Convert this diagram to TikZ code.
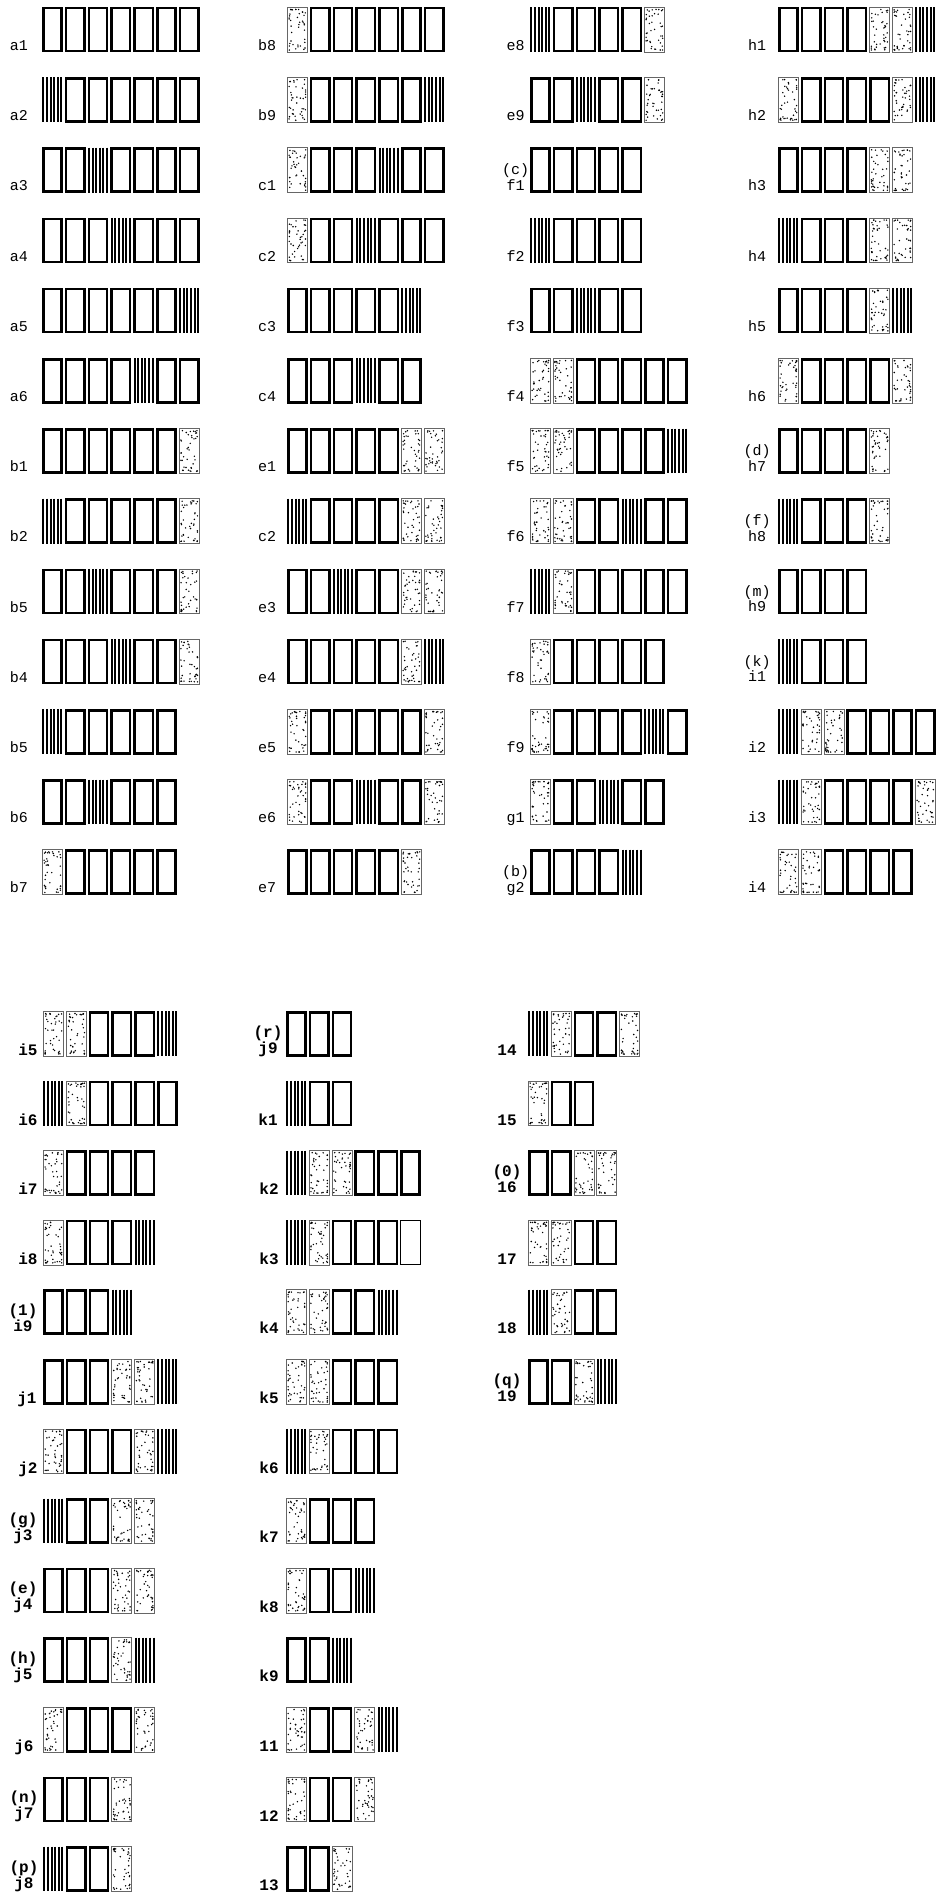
\documentclass[tikz,border=0pt]{standalone}
\usepackage{fontspec}
\setmonofont{Liberation Mono}
\tikzset{
 boxE/.style={draw=black, line width=2.5pt, line join=miter},
 boxT/.style={draw=black, line width=1.3pt},
 boxS/.style={draw=black!60, line width=0.8pt, fill=white},
 hline/.style={draw=black, line width=2pt},
 lab/.style={font=\ttfamily\fontsize{15}{17}\selectfont, anchor=base, inner sep=0pt},
 labb/.style={font=\ttfamily\bfseries\fontsize{16}{18}\selectfont, anchor=base, inner sep=0pt},
}
\newcommand\cellE[2]{\draw[boxE] ({#1+2.25},{#2+1.25}) rectangle ({#1+20.55},{#2+44.25});}
\newcommand\cellT[2]{\draw[boxT] ({#1+1.65},{#2+0.65}) rectangle ({#1+21.15},{#2+44.85});}
\newcommand\cellS[2]{\draw[boxS] ({#1+1.4},{#2+0.4}) rectangle ({#1+21.4},{#2+45.1});
 \foreach \k in {1,...,40}{\fill ({#1+11.4+8.3*sin(90*rand)},{#2+22.75+20.3*sin(90*rand)}) circle[radius=0.8pt];}}
\newcommand\cellH[2]{\foreach \k in {0,...,5}{\draw[hline] ({#1+2.4+\k*3.6},{#2+0.3}) -- ({#1+2.4+\k*3.6},{#2+45.2});}}
\newcommand\crow[3]{\foreach \t [count=\i from 0] in {#3}{\csname cell\t\endcsname{#1+\i*22.8}{#2}}}
% upper section: #1 box x, #2 label x, #3 row, #4 label, #5 spec
\newcommand\urow[5]{\crow{#1}{7+70.2*(#3-1)}{#5}
 \node[lab] (u#1r#3) at (#2,{7+70.2*(#3-1)+43.5}) {#4};}
\newcommand\urowt[6]{\crow{#1}{7+70.2*(#3-1)}{#5}
 \node[lab] (u#1r#3) at (#2,{7+70.2*(#3-1)+43}) {#4};
 \node[lab] (u#1r#3p) at (#2,{7+70.2*(#3-1)+27.5}) {#6};}
% lower section
\newcommand\lrow[5]{\crow{#1}{1011+69.6*(#3-1)}{#5}
 \node[labb] (l#1r#3) at (#2,{1011+69.6*(#3-1)+44.5}) {#4};}
\newcommand\lrowt[6]{\crow{#1}{1011+69.6*(#3-1)}{#5}
 \node[labb] (l#1r#3) at (#2,{1011+69.6*(#3-1)+42}) {#4};
 \node[labb] (l#1r#3p) at (#2,{1011+69.6*(#3-1)+26}) {#6};}
\begin{document}
\begin{tikzpicture}[x=1pt,y=-1pt]
\pgfmathsetseed{7}
\useasboundingbox[fill=white] (0,0) rectangle (937,1892);
% ---------- upper column 1
\urow{41}{19}{1}{a1}{E,E,E,E,E,E,E}
\urow{41}{19}{2}{a2}{H,E,E,E,E,E,E}
\urow{41}{19}{3}{a3}{E,E,H,E,E,E,E}
\urow{41}{19}{4}{a4}{E,E,E,H,E,E,E}
\urow{41}{19}{5}{a5}{E,E,E,E,E,E,H}
\urow{41}{19}{6}{a6}{E,E,E,E,H,E,E}
\urow{41}{19}{7}{b1}{E,E,E,E,E,E,S}
\urow{41}{19}{8}{b2}{H,E,E,E,E,E,S}
\urow{41}{19}{9}{b5}{E,E,H,E,E,E,S}
\urow{41}{19}{10}{b4}{E,E,E,H,E,E,S}
\urow{41}{19}{11}{b5}{H,E,E,E,E,E}
\urow{41}{19}{12}{b6}{E,E,H,E,E,E}
\urow{41}{19}{13}{b7}{S,E,E,E,E,E}
% ---------- upper column 2
\urow{286}{267}{1}{b8}{S,E,E,E,E,E,E}
\urow{286}{267}{2}{b9}{S,E,E,E,E,E,H}
\urow{286}{267}{3}{c1}{S,E,E,E,H,E,E}
\urow{286}{267}{4}{c2}{S,E,E,H,E,E,E}
\urow{286}{267}{5}{c3}{E,E,E,E,E,H}
\urow{286}{267}{6}{c4}{E,E,E,H,E,E}
\urow{286}{267}{7}{e1}{E,E,E,E,E,S,S}
\urow{286}{267}{8}{c2}{H,E,E,E,E,S,S}
\urow{286}{267}{9}{e3}{E,E,H,E,E,S,S}
\urow{286}{267}{10}{e4}{E,E,E,E,E,S,H}
\urow{286}{267}{11}{e5}{S,E,E,E,E,E,S}
\urow{286}{267}{12}{e6}{S,E,E,H,E,E,S}
\urow{286}{267}{13}{e7}{E,E,E,E,E,S}
% ---------- upper column 3
\urow{529}{515.5}{1}{e8}{H,E,E,E,E,S}
\urow{529}{515.5}{2}{e9}{E,E,H,E,E,S}
\urowt{529}{515.5}{3}{f1}{E,E,E,E,E}{(c)}
\urow{529}{515.5}{4}{f2}{H,E,E,E,E}
\urow{529}{515.5}{5}{f3}{E,E,H,E,E}
\urow{529}{515.5}{6}{f4}{S,S,E,E,E,E,E}
\urow{529}{515.5}{7}{f5}{S,S,E,E,E,E,H}
\urow{529}{515.5}{8}{f6}{S,S,E,E,H,E,E}
\urow{529}{515.5}{9}{f7}{H,S,E,E,E,E,E}
\urow{529}{515.5}{10}{f8}{S,E,E,E,E,E}
\urow{529}{515.5}{11}{f9}{S,E,E,E,E,H,E}
\urow{529}{515.5}{12}{g1}{S,E,E,H,E,E}
\urowt{529}{515.5}{13}{g2}{E,E,E,E,H}{(b)}
% ---------- upper column 4
\urow{777}{757}{1}{h1}{E,E,E,E,S,S,H}
\urow{777}{757}{2}{h2}{S,E,E,E,E,S,H}
\urow{777}{757}{3}{h3}{E,E,E,E,S,S}
\urow{777}{757}{4}{h4}{H,E,E,E,S,S}
\urow{777}{757}{5}{h5}{E,E,E,E,S,H}
\urow{777}{757}{6}{h6}{S,E,E,E,E,S}
\urowt{777}{757}{7}{h7}{E,E,E,E,S}{(d)}
\urowt{777}{757}{8}{h8}{H,E,E,E,S}{(f)}
\urowt{777}{757}{9}{h9}{E,E,E,E}{(m)}
\urowt{777}{757}{10}{i1}{H,E,E,E}{(k)}
\urow{777}{757}{11}{i2}{H,S,S,E,E,E,E}
\urow{777}{757}{12}{i3}{H,S,E,E,E,E,S}
\urow{777}{757}{13}{i4}{S,S,E,E,E,E}
% ---------- lower column 1
\lrow{42}{28}{1}{i5}{S,S,E,E,E,H}
\lrow{42}{28}{2}{i6}{H,S,E,E,E,E}
\lrow{42}{28}{3}{i7}{S,E,E,E,E}
\lrow{42}{28}{4}{i8}{S,E,E,E,H}
\lrowt{42}{23}{5}{i9}{E,E,E,H}{(1)}
\lrow{42}{27}{6}{j1}{E,E,E,S,S,H}
\lrow{42}{28}{7}{j2}{S,E,E,E,S,H}
\lrowt{42}{23}{8}{j3}{H,E,E,S,S}{(g)}
\lrowt{42}{23}{9}{j4}{E,E,E,S,S}{(e)}
\lrowt{42}{23}{10}{j5}{E,E,E,S,H}{(h)}
\lrow{42}{24}{11}{j6}{S,E,E,E,S}
\lrowt{42}{24}{12}{j7}{E,E,E,S}{(n)}
\lrowt{42}{24}{13}{j8}{H,E,E,S}{(p)}
% ---------- lower column 2
\lrowt{285}{268}{1}{j9}{E,E,E}{(r)}
\lrow{285}{268}{2}{k1}{H,E,E}
\lrow{285}{269}{3}{k2}{H,S,S,E,E,E}
\lrow{285}{269}{4}{k3}{H,S,E,E,E,T}
\lrow{285}{269}{5}{k4}{S,S,E,E,H}
\lrow{285}{269}{6}{k5}{S,S,E,E,E}
\lrow{285}{269}{7}{k6}{H,S,E,E,E}
\lrow{285}{269}{8}{k7}{S,E,E,E}
\lrow{285}{269}{9}{k8}{S,E,E,H}
\lrow{285}{269}{10}{k9}{E,E,H}
\lrow{285}{269}{11}{11}{S,E,E,S,H}
\lrow{285}{269}{12}{12}{S,E,E,S}
\lrow{285}{269}{13}{13}{E,E,S}
% ---------- lower column 3
\lrow{527}{507}{1}{14}{H,S,E,E,S}
\lrow{527}{507}{2}{15}{S,E,E}
\lrowt{527}{507}{3}{16}{E,E,S,S}{(0)}
\lrow{527}{507}{4}{17}{S,S,E,E}
\lrow{527}{507}{5}{18}{H,S,E,E}
\lrowt{527}{507}{6}{19}{E,E,S,H}{(q)}
\end{tikzpicture}
\end{document}
